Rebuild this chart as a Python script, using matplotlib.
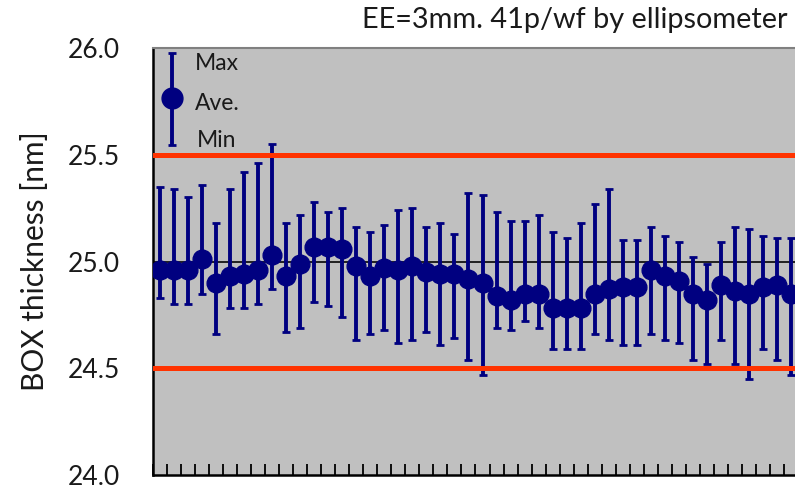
import numpy as np
import matplotlib
matplotlib.use("Agg")
import matplotlib.pyplot as plt

# BOX thickness per wafer (nm)
ave = [24.96, 24.96, 24.96, 25.01, 24.90, 24.93, 24.94, 24.96, 25.03, 24.93,
       24.99, 25.07, 25.07, 25.06, 24.98, 24.93, 24.97, 24.96, 24.98, 24.95,
       24.94, 24.94, 24.92, 24.90, 24.84, 24.82, 24.85, 24.85, 24.78, 24.78,
       24.78, 24.85, 24.87, 24.88, 24.88, 24.96, 24.93, 24.91, 24.85, 24.82,
       24.89, 24.86, 24.85, 24.88, 24.89, 24.85]
vmax = [25.35, 25.34, 25.30, 25.36, 25.18, 25.34, 25.42, 25.46, 25.55, 25.18,
        25.22, 25.28, 25.23, 25.25, 25.16, 25.14, 25.17, 25.24, 25.25, 25.16,
        25.18, 25.13, 25.32, 25.31, 25.23, 25.19, 25.19, 25.22, 25.14, 25.11,
        25.18, 25.27, 25.34, 25.10, 25.10, 25.16, 25.12, 25.09, 25.02, 24.99,
        25.09, 25.16, 25.15, 25.12, 25.11, 25.11]
vmin = [24.83, 24.80, 24.80, 24.85, 24.66, 24.78, 24.78, 24.80, 24.87, 24.67,
        24.69, 24.81, 24.79, 24.74, 24.63, 24.66, 24.68, 24.62, 24.63, 24.67,
        24.61, 24.64, 24.54, 24.47, 24.69, 24.68, 24.72, 24.69, 24.59, 24.59,
        24.59, 24.66, 24.63, 24.61, 24.61, 24.66, 24.63, 24.62, 24.54, 24.52,
        24.63, 24.52, 24.45, 24.59, 24.54, 24.47]
upper_limit = 25.5
lower_limit = 24.5
target = 25.0
yticks = [24.0, 24.5, 25.0, 25.5, 26.0]

plt.rcParams['font.family'] = ['Lato', 'DejaVu Sans']

W, H = 795, 488
fig = plt.figure(figsize=(W / 100, H / 100), dpi=100)
left, right, top, bottom = 153, 798, 48, 475
ax = fig.add_axes([left / W, 1 - bottom / H, (right - left) / W, (bottom - top) / H])
ax.set_facecolor('#C0C0C0')

x = np.arange(len(ave))
ave = np.array(ave)
err = [ave - np.array(vmin), np.array(vmax) - ave]

navy = '#000080'
ax.axhline(target, color='#202020', lw=1.4, zorder=1)
ax.errorbar(x, ave, yerr=err, fmt='o', color=navy, ms=13.5, elinewidth=2.8,
            capsize=3, capthick=2, zorder=3)
ax.axhline(upper_limit, color='#FF3300', lw=3.6, zorder=4)
ax.axhline(lower_limit, color='#FF3300', lw=3.6, zorder=4)

ax.set_xlim(-0.5, len(ave) - 0.5)
ax.set_ylim(24.0, 26.0)
ax.set_xticks(np.arange(-0.5, len(ave), 1))
ax.set_xticklabels([])
ax.tick_params(axis='x', direction='in', length=8, width=1.3, color='black')
ax.set_yticks(yticks)
ax.set_yticklabels(['%.1f' % v for v in yticks], fontsize=19, color='#1a1a1a')
ax.tick_params(axis='y', length=0, pad=24)

ax.spines['left'].set_linewidth(1.8)
ax.spines['bottom'].set_linewidth(1.8)
ax.spines['top'].set_color('#808080')
ax.spines['top'].set_linewidth(1.5)

# legend-like key drawn in axes coordinates
ax.errorbar([0.030], [0.883], yerr=[[0.883 - 0.774], [0.988 - 0.883]], fmt='o',
            color=navy, ms=15, elinewidth=2.8, capsize=3, capthick=2,
            transform=ax.transAxes, zorder=5, clip_on=False)
ax.text(0.065, 0.963, 'Max', transform=ax.transAxes, fontsize=16.5, va='center', color='#1a1a1a')
ax.text(0.065, 0.869, 'Ave.', transform=ax.transAxes, fontsize=16.5, va='center', color='#1a1a1a')
ax.text(0.068, 0.783, 'Min', transform=ax.transAxes, fontsize=16.5, va='center', color='#1a1a1a')

fig.text(787 / W, 1 - 20 / H, 'EE=3mm. 41p/wf by ellipsometer', ha='right', va='center',
         fontsize=20.8, color='#1a1a1a')
fig.text(35 / W, 1 - 261 / H, 'BOX thickness [nm]', rotation=90, ha='center', va='center',
         fontsize=21.5, color='#1a1a1a')

fig.savefig('out.png', dpi=100)
